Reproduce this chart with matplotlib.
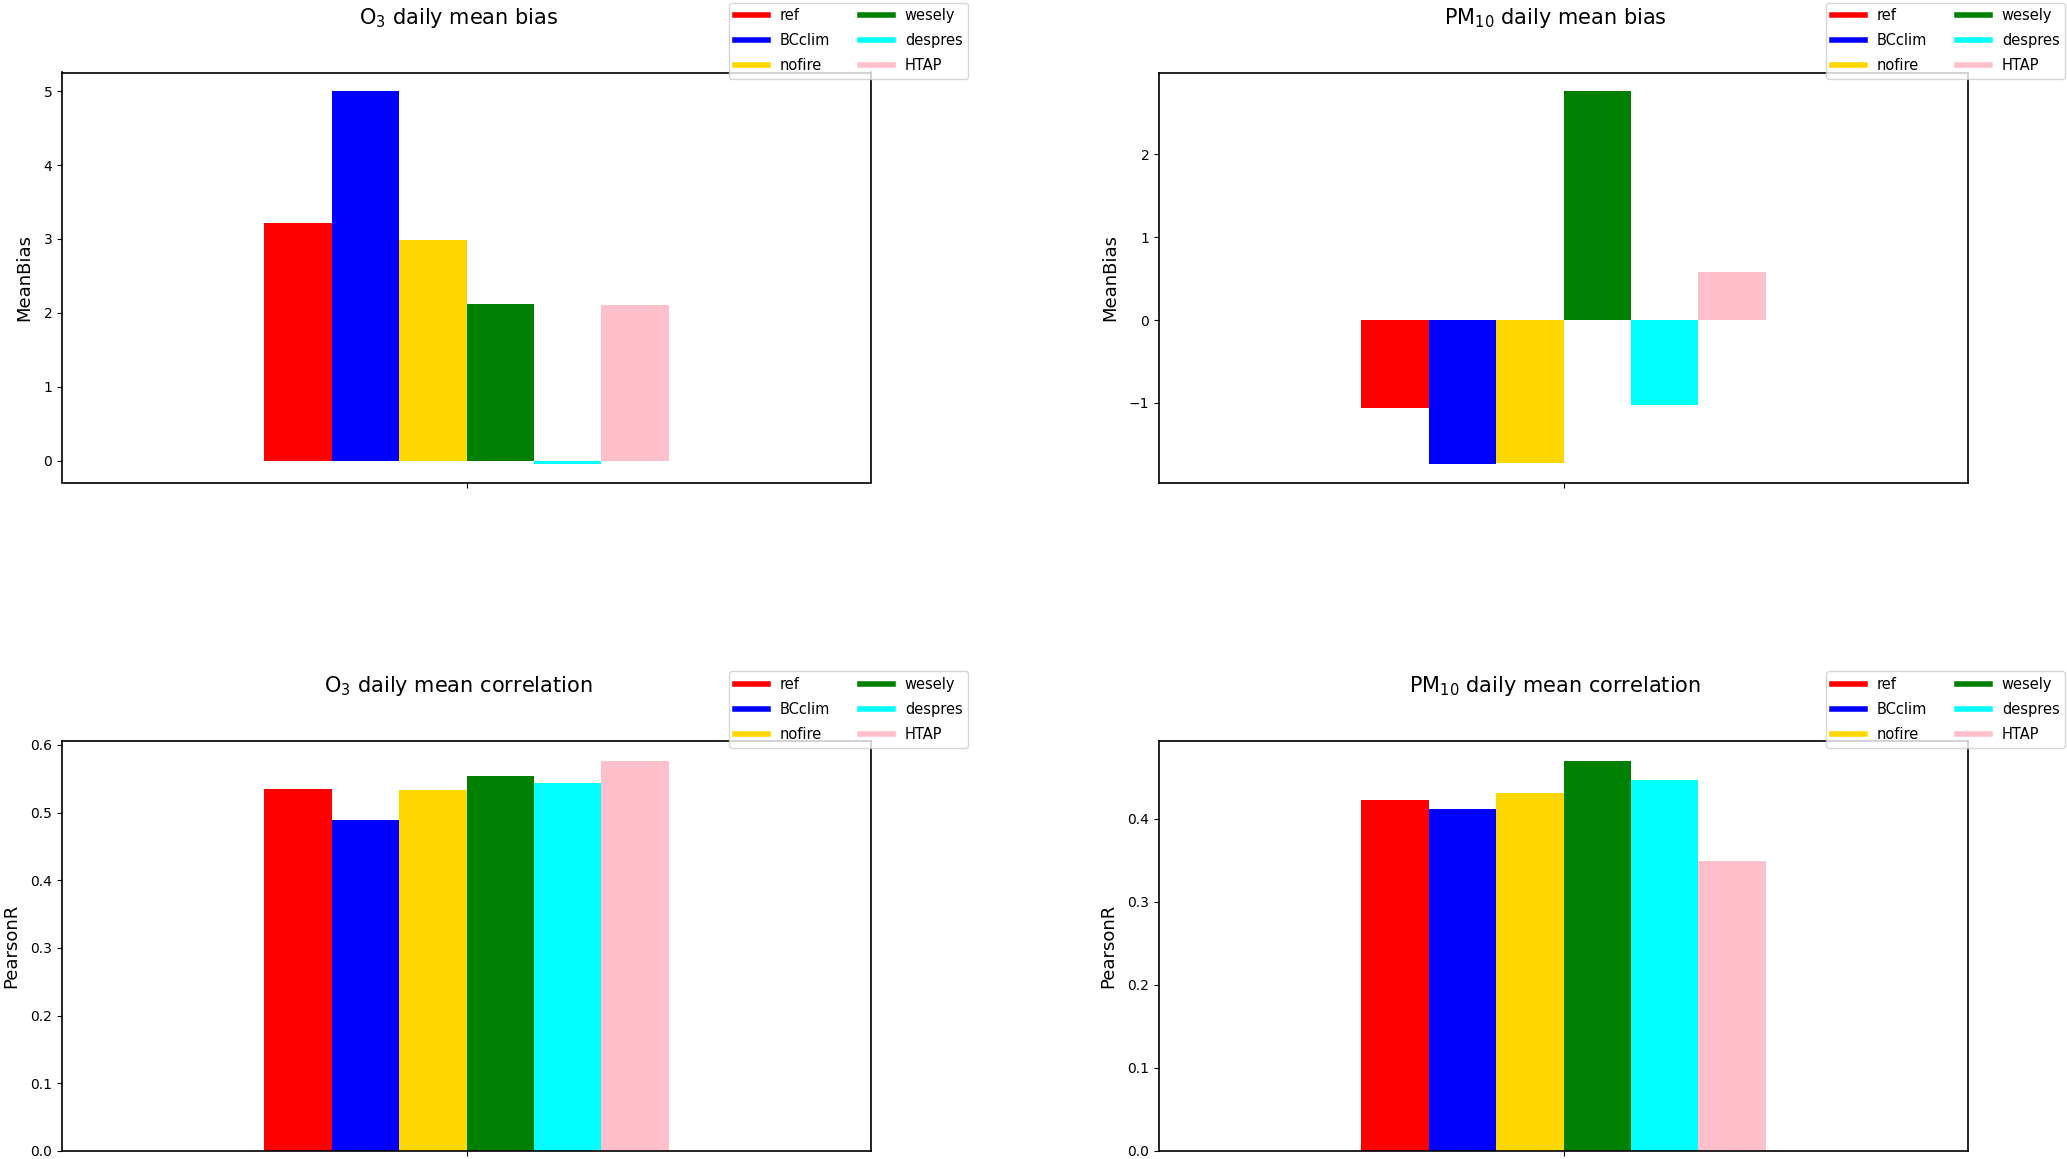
import numpy as np
import matplotlib
matplotlib.use("Agg")
import matplotlib.pyplot as plt
from matplotlib.lines import Line2D

# ---- data ----
runs = ["ref", "BCclim", "nofire", "wesely", "despres", "HTAP"]
colors = ["red", "blue", "gold", "green", "cyan", "pink"]

o3_bias = [3.21, 5.00, 2.98, 2.12, -0.045, 2.10]
pm10_bias = [-1.063, -1.737, -1.721, 2.764, -1.027, 0.582]
o3_corr = [0.535, 0.489, 0.533, 0.554, 0.544, 0.577]
pm10_corr = [0.423, 0.412, 0.431, 0.470, 0.446, 0.349]

titles = ["O$_3$ daily mean bias", "PM$_{10}$ daily mean bias",
          "O$_3$ daily mean correlation", "PM$_{10}$ daily mean correlation"]
ylabels = ["MeanBias", "MeanBias", "PearsonR", "PearsonR"]
panels = [o3_bias, pm10_bias, o3_corr, pm10_corr]

W, H = 2067, 1159
fig = plt.figure(figsize=(W / 100, H / 100), dpi=100)

ax_w = 809 / W
ax_h = 410 / H
lefts = [62 / W, 1159 / W]
bottoms = [1 - 482.5 / H, 1 - 1151 / H]
pos = [(lefts[0], bottoms[0]), (lefts[1], bottoms[0]),
       (lefts[0], bottoms[1]), (lefts[1], bottoms[1])]

n = len(runs)
total = 0.5
bw = total / n
for k in range(4):
    ax = fig.add_axes([pos[k][0], pos[k][1], ax_w, ax_h])
    vals = panels[k]
    for i in range(n):
        ax.bar(0 - total / 2 + bw * (i + 0.5), vals[i], width=bw,
               color=colors[i], label=runs[i])
    ax.set_xlim(-0.5, 0.5)
    ax.set_xticks([0])
    ax.set_xticklabels([""])
    if k >= 2:
        ax.set_ylim(bottom=0)
    ax.tick_params(labelsize=10)
    ax.set_ylabel(ylabels[k], fontsize=13, labelpad=7)
    ax.set_title(titles[k], fontsize=15, pad=35, x=0.49)
    for sp in ax.spines.values():
        sp.set_linewidth(1.2)
    handles = [Line2D([], [], color=c, lw=4) for c in colors]
    leg_x = (pos[k][0] * W + ax_w * W - 142) / W
    leg_y = (pos[k][1] * H + ax_h * H + 70) / H
    ax.legend(handles, runs, ncol=2, fontsize=10.5, loc="upper left",
              bbox_to_anchor=(leg_x, leg_y), bbox_transform=fig.transFigure,
              borderaxespad=0, handlelength=2.3, labelspacing=0.68,
              borderpad=0.4)

fig.savefig("out.png", dpi=100)
